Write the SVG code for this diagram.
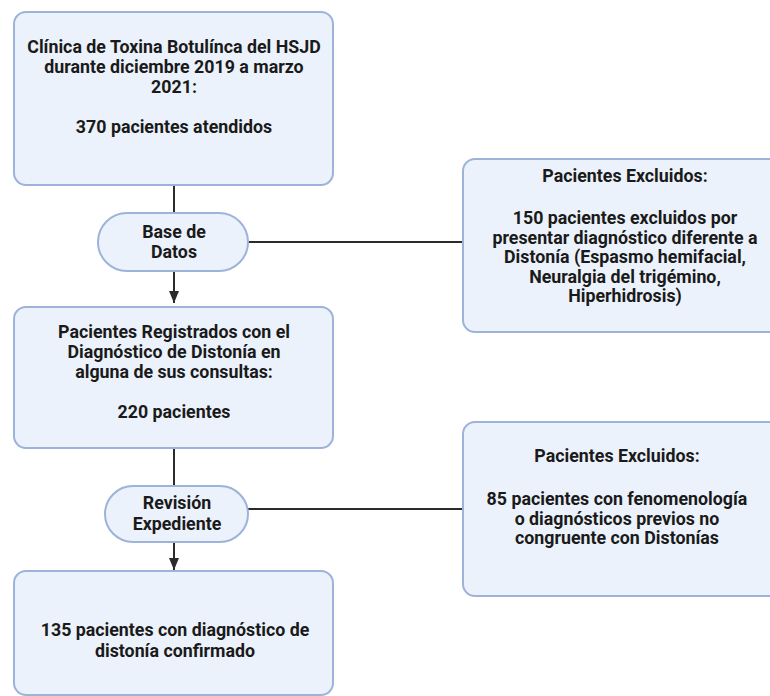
<svg xmlns="http://www.w3.org/2000/svg" width="770" height="696" viewBox="0 0 770 696">
  <style>
    .box { fill: #ECF2FB; stroke: #9DB3DA; stroke-width: 2; }
    .edge { stroke: #2B2B2B; stroke-width: 2; fill: none; }
    .lbl { font-family: Roboto, "Liberation Sans", sans-serif; font-size: 17.8px; font-weight: 700; fill: #1A1A1A; text-anchor: middle; }
  </style>
  <defs>
    <marker id="arrow" viewBox="0 0 12 10" refX="12" refY="5" markerWidth="12" markerHeight="10" markerUnits="userSpaceOnUse" orient="auto">
      <path d="M0,0 L12,5 L0,10 Z" fill="#2B2B2B"/>
    </marker>
  </defs>
  <rect width="770" height="696" fill="#FFFFFF"/>

  <g id="connectors">
    <line class="edge" x1="174" y1="185" x2="174" y2="213"/>
    <line class="edge" x1="174" y1="271" x2="174" y2="303" marker-end="url(#arrow)"/>
    <line class="edge" x1="248" y1="242" x2="463" y2="242"/>
    <line class="edge" x1="174" y1="448" x2="174" y2="486"/>
    <line class="edge" x1="174" y1="542" x2="174" y2="570" marker-end="url(#arrow)"/>
    <line class="edge" x1="248" y1="509" x2="463" y2="509"/>
  </g>

  <g id="clinica">
    <rect class="box" x="14" y="12" width="319" height="173" rx="12"/>
    <text class="lbl" x="174" y="53">Clínica de Toxina Botulínca del HSJD</text>
    <text class="lbl" x="174" y="73">durante diciembre 2019 a marzo</text>
    <text class="lbl" x="174" y="93">2021:</text>
    <text class="lbl" x="174" y="133">370 pacientes atendidos</text>
  </g>

  <g id="base-datos">
    <rect class="box" x="98" y="213" width="150" height="58" rx="29"/>
    <text class="lbl" x="174" y="238">Base de</text>
    <text class="lbl" x="174" y="258">Datos</text>
  </g>

  <g id="excluidos-1">
    <rect class="box" x="463" y="159" width="330" height="173" rx="12"/>
    <text class="lbl" x="625" y="182">Pacientes Excluidos:</text>
    <text class="lbl" x="625" y="224">150 pacientes excluidos por</text>
    <text class="lbl" x="625" y="244">presentar diagnóstico diferente a</text>
    <text class="lbl" x="625" y="263">Distonía (Espasmo hemifacial,</text>
    <text class="lbl" x="625" y="283">Neuralgia del trigémino,</text>
    <text class="lbl" x="625" y="302">Hiperhidrosis)</text>
  </g>

  <g id="registrados">
    <rect class="box" x="14" y="307" width="319" height="141" rx="12"/>
    <text class="lbl" x="174" y="338">Pacientes Registrados con el</text>
    <text class="lbl" x="174" y="358">Diagnóstico de Distonía en</text>
    <text class="lbl" x="174" y="378">alguna de sus consultas:</text>
    <text class="lbl" x="174" y="418">220 pacientes</text>
  </g>

  <g id="revision">
    <rect class="box" x="105" y="486" width="143" height="56" rx="28"/>
    <text class="lbl" x="177" y="509">Revisión</text>
    <text class="lbl" x="177" y="530">Expediente</text>
  </g>

  <g id="excluidos-2">
    <rect class="box" x="463" y="422" width="330" height="174" rx="12"/>
    <text class="lbl" x="617" y="462">Pacientes Excluidos:</text>
    <text class="lbl" x="617" y="505">85 pacientes con fenomenología</text>
    <text class="lbl" x="617" y="525">o diagnósticos previos no</text>
    <text class="lbl" x="617" y="544">congruente con Distonías</text>
  </g>

  <g id="confirmados">
    <rect class="box" x="14" y="571" width="319" height="124" rx="12"/>
    <text class="lbl" x="175" y="636">135 pacientes con diagnóstico de</text>
    <text class="lbl" x="175" y="657">distonía confirmado</text>
  </g>
</svg>
